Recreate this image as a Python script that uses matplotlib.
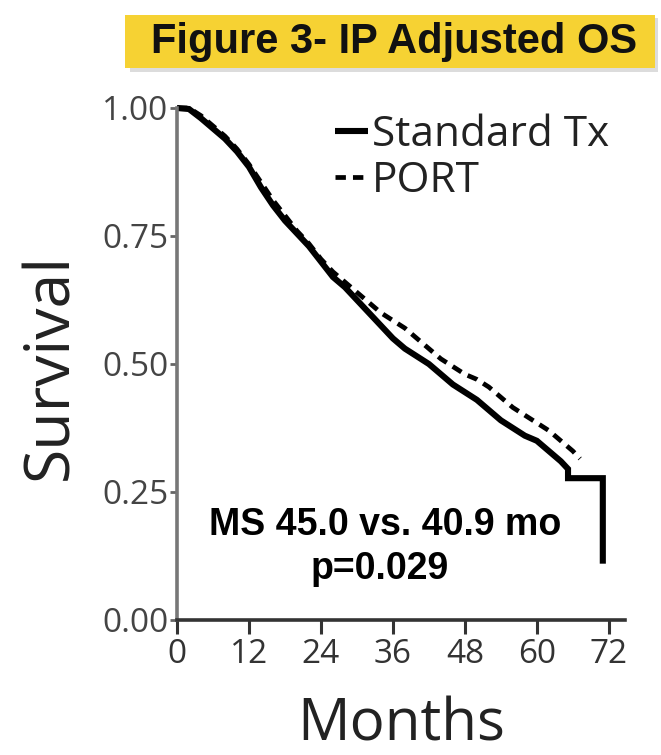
import matplotlib
matplotlib.use("Agg")
import matplotlib.pyplot as plt
from matplotlib.patches import Rectangle

# ---- data ----
std_months = [0, 2, 4, 6, 8, 10, 12, 14, 16, 18, 20, 22, 24, 26, 28, 30, 32, 34,
              36, 38, 40, 42, 44, 46, 48, 50, 52, 54, 56, 58, 60, 62, 64, 65.2,
              65.2, 71, 71, 71]
std_surv = [1.0, 0.998, 0.98, 0.96, 0.94, 0.915, 0.885, 0.845, 0.81, 0.78, 0.755,
            0.73, 0.70, 0.67, 0.65, 0.625, 0.60, 0.575, 0.55, 0.53, 0.515, 0.50,
            0.48, 0.46, 0.445, 0.43, 0.41, 0.39, 0.375, 0.36, 0.35, 0.33, 0.31,
            0.295, 0.277, 0.277, 0.19, 0.11]

port_months = [0, 2, 4, 6, 8, 10, 12, 14, 16, 18, 20, 22, 24, 26, 28, 30, 32, 34,
               36, 38, 40, 42, 44, 46, 48, 50, 52, 54, 56, 58, 60, 62, 64, 66, 67.2]
port_surv = [1.0, 1.0, 0.985, 0.965, 0.945, 0.92, 0.89, 0.855, 0.82, 0.79, 0.76,
             0.735, 0.705, 0.68, 0.66, 0.64, 0.62, 0.60, 0.585, 0.57, 0.55, 0.53,
             0.51, 0.495, 0.48, 0.47, 0.455, 0.435, 0.415, 0.40, 0.385, 0.37,
             0.35, 0.33, 0.315]

x_ticks = [0, 12, 24, 36, 48, 60, 72]
y_ticks = [0.0, 0.25, 0.50, 0.75, 1.00]
y_ticklabels = ["0.00", "0.25", "0.50", "0.75", "1.00"]
series_labels = ["Standard Tx", "PORT"]
title = "Figure 3- IP Adjusted OS"
annot1 = "MS 45.0 vs. 40.9 mo"
annot2 = "p=0.029"

# ---- figure ----
W, H = 661, 755
fig = plt.figure(figsize=(W / 100, H / 100), dpi=100)
ax = fig.add_axes([177 / W, 1 - 620 / H, 448 / W, 512 / H])

sans = ["Open Sans", "DejaVu Sans"]
bold = ["Liberation Sans", "DejaVu Sans"]

ax.plot(std_months, std_surv, color="black", lw=4.4, solid_joinstyle="miter",
        solid_capstyle="butt", clip_on=False, label=series_labels[0])
ax.plot(port_months, port_surv, color="black", lw=3.4,
        linestyle=(0, (2.2, 1.5)), clip_on=False, label=series_labels[1])

ax.set_xlim(0, 74.7)
ax.set_ylim(0, 1.0)
ax.set_xticks(x_ticks)
ax.set_xticklabels([str(t) for t in x_ticks], fontfamily=sans, fontsize=24,
                   color="#333333")
ax.set_yticks(y_ticks)
ax.set_yticklabels(y_ticklabels, fontfamily=sans, fontsize=24, color="#444444")
ax.tick_params(axis="x", direction="out", length=10, width=2.2, color="#333333", pad=3)
ax.tick_params(axis="y", direction="out", length=5, width=2.0, color="#666666", pad=1)

for s in ["top", "right"]:
    ax.spines[s].set_visible(False)
ax.spines["left"].set_color("#777777")
ax.spines["left"].set_linewidth(2.6)
ax.spines["bottom"].set_color("#333333")
ax.spines["bottom"].set_linewidth(2.6)

ax.set_ylabel("Survival", fontfamily=sans, fontsize=45, color="#222222")
ax.yaxis.set_label_coords((82 - 177) / 448, (620 - 366) / 512)
ax.set_xlabel("Months", fontfamily=sans, fontsize=42, color="#222222")
ax.xaxis.set_label_coords((401 - 177) / 448, (620 - 696) / 512)

leg = ax.legend(loc="upper left", bbox_to_anchor=((335 - 177) / 448, (620 - 114) / 512),
                frameon=False, prop={"family": sans, "size": 30.5},
                handlelength=0.78, handletextpad=0.1, labelspacing=0.1,
                borderpad=0, borderaxespad=0)
for t in leg.get_texts():
    t.set_color("#222222")

ax.text(34.7, 0.186, annot1, ha="center", va="center", fontfamily=bold,
        fontweight="bold", fontsize=27, color="black")
ax.text(33.8, 0.10, annot2, ha="center", va="center", fontfamily=bold,
        fontweight="bold", fontsize=27, color="black")

# title box
fig.patches.append(Rectangle((127 / W + 0.004, 1 - 72 / H), 528 / W, 54 / H,
                             transform=fig.transFigure, facecolor="#bbbbbb",
                             edgecolor="none", alpha=0.5, zorder=0))
fig.patches.append(Rectangle((125 / W, 1 - 68 / H), 530 / W, 53 / H,
                             transform=fig.transFigure, facecolor="#F6D233",
                             edgecolor="none", zorder=1))
fig.text(394 / W, 1 - 42 / H, title, ha="center", va="center", fontfamily=bold,
         fontweight="bold", fontsize=30, color="#111111", zorder=2)

fig.savefig("out.png", dpi=100, facecolor="white")
